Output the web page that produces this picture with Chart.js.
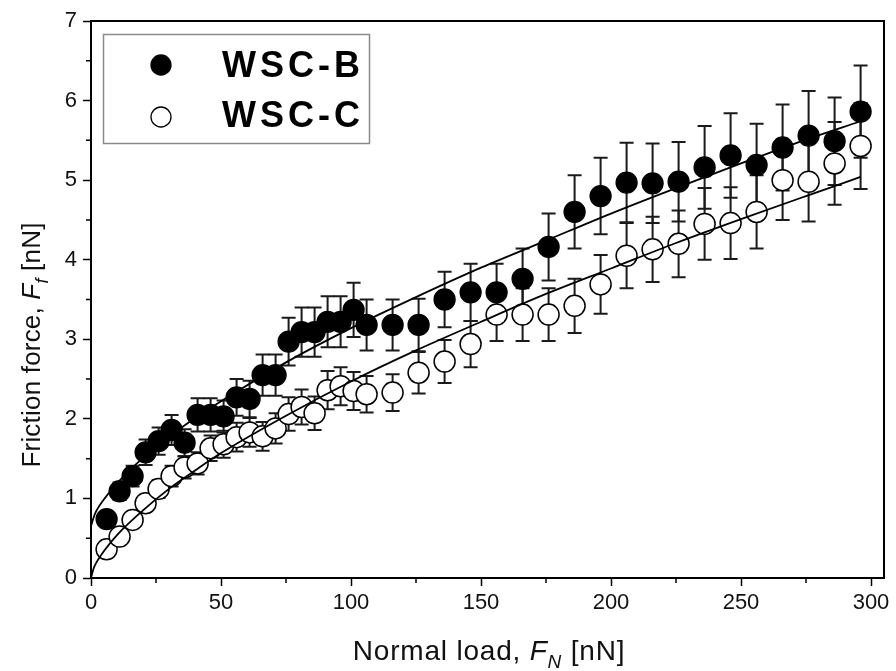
<!DOCTYPE html>
<html><head><meta charset="utf-8">
<script src="https://cdn.jsdelivr.net/npm/chart.js@4/dist/chart.umd.min.js"></script>
<style>html,body{margin:0;padding:0;background:#fff;}#wrap{width:896px;height:671px;position:relative;}</style>
</head><body><div id="wrap"><canvas id="c" width="896" height="671"></canvas></div>
<script>
// ---- data ----
const loadX = [6,11,16,21,26,31,36,41,46,51,56,61,66,71,76,81,86,91,96,101,106,116,126,136,146,156,166,176,186,196,206,216,226,236,246,256,266,276,286,296];
const frictionB = [0.74,1.09,1.28,1.58,1.72,1.86,1.70,2.05,2.05,2.03,2.27,2.25,2.55,2.55,2.97,3.09,3.09,3.22,3.22,3.37,3.18,3.18,3.18,3.50,3.59,3.59,3.76,4.16,4.60,4.80,4.97,4.96,4.98,5.16,5.31,5.19,5.41,5.56,5.49,5.86];
const errB = [0.07,0.11,0.13,0.16,0.17,0.19,0.17,0.21,0.21,0.20,0.23,0.23,0.26,0.26,0.30,0.31,0.31,0.32,0.32,0.34,0.32,0.32,0.33,0.35,0.36,0.36,0.38,0.42,0.46,0.48,0.50,0.50,0.50,0.52,0.53,0.52,0.54,0.56,0.55,0.58];
const frictionC = [0.36,0.52,0.73,0.94,1.12,1.28,1.39,1.44,1.63,1.68,1.77,1.83,1.78,1.88,2.06,2.15,2.07,2.36,2.41,2.35,2.31,2.33,2.58,2.72,2.94,3.31,3.31,3.31,3.42,3.69,4.05,4.13,4.20,4.45,4.46,4.60,5.00,4.98,5.21,5.43];
const errC = [0.04,0.05,0.07,0.09,0.11,0.13,0.14,0.14,0.16,0.17,0.18,0.18,0.18,0.19,0.21,0.22,0.21,0.24,0.24,0.24,0.23,0.23,0.26,0.27,0.29,0.33,0.33,0.33,0.34,0.37,0.41,0.41,0.42,0.45,0.45,0.46,0.50,0.50,0.52,0.54];
const fitX = [0,1,2,5,10,20,30,40,50,75,100,125,150,175,200,225,250,275,296];
const fitB = [0.65,0.76,0.84,0.99,1.19,1.51,1.77,2.01,2.22,2.71,3.14,3.53,3.90,4.24,4.58,4.90,5.21,5.51,5.74];
const fitC = [0,0.12,0.19,0.34,0.54,0.85,1.12,1.35,1.57,2.04,2.47,2.86,3.22,3.57,3.89,4.21,4.51,4.80,5.04];
const seriesNames = ['WSC-B','WSC-C'];
const xMajorTicks = [0,50,100,150,200,250,300];
const xMinorTicks = [25,75,125,175,225,275];
const yMajorTicks = [0,1,2,3,4,5,6,7];
const yMinorTicks = [0.5,1.5,2.5,3.5,4.5,5.5,6.5];

const FONT = '"Liberation Sans", Arial, Helvetica, sans-serif';
const pts = (xs, ys) => xs.map((v, i) => ({x: v, y: ys[i]}));

const errorBars = {
  id: 'errorBars',
  beforeDatasetsDraw(chart) {
    const {ctx, scales: {x, y}} = chart;
    ctx.save();
    ctx.strokeStyle = '#1a1a1a';
    ctx.lineWidth = 2;
    [[frictionB, errB], [frictionC, errC]].forEach(([ys, es]) => {
      loadX.forEach((xv, i) => {
        const px = x.getPixelForValue(xv);
        const t = y.getPixelForValue(ys[i] + es[i]);
        const b = y.getPixelForValue(ys[i] - es[i]);
        ctx.beginPath();
        ctx.moveTo(px, t); ctx.lineTo(px, b);
        ctx.moveTo(px - 7, t); ctx.lineTo(px + 7, t);
        ctx.moveTo(px - 7, b); ctx.lineTo(px + 7, b);
        ctx.stroke();
      });
    });
    ctx.restore();
  }
};

function drawRich(ctx, parts, cx, baseY, size, spacing) {
  const subSize = Math.round(size * 0.68);
  const fontFor = p => (p.italic ? 'italic ' : '') + (p.sub ? subSize : size) + 'px ' + FONT;
  ctx.letterSpacing = spacing + 'px';
  let total = 0;
  parts.forEach(p => { ctx.font = fontFor(p); total += ctx.measureText(p.t).width; });
  let xx = cx - total / 2;
  ctx.textAlign = 'left';
  ctx.textBaseline = 'alphabetic';
  parts.forEach(p => {
    ctx.font = fontFor(p);
    ctx.fillText(p.t, xx, baseY + (p.sub ? size * 0.3 : 0));
    xx += ctx.measureText(p.t).width;
  });
  ctx.letterSpacing = '0px';
}

const decor = {
  id: 'decor',
  afterDraw(chart) {
    const {ctx, chartArea: a, scales: {x, y}} = chart;
    ctx.save();
    // frame top & right
    ctx.strokeStyle = '#000';
    ctx.lineWidth = 2;
    ctx.beginPath();
    ctx.moveTo(a.left, a.top); ctx.lineTo(a.right, a.top); ctx.lineTo(a.right, a.bottom);
    ctx.stroke();
    // minor ticks
    ctx.lineWidth = 1.5;
    ctx.beginPath();
    xMinorTicks.forEach(v => { const px = x.getPixelForValue(v); ctx.moveTo(px, a.bottom); ctx.lineTo(px, a.bottom + 5); });
    yMinorTicks.forEach(v => { const py = y.getPixelForValue(v); ctx.moveTo(a.left, py); ctx.lineTo(a.left - 5, py); });
    ctx.stroke();
    // axis titles
    ctx.fillStyle = '#111';
    drawRich(ctx, [{t: 'Normal load, '}, {t: 'F', italic: true}, {t: 'N', italic: true, sub: true}, {t: ' [nN]'}], 489, 660, 28, 0.8);
    ctx.save();
    ctx.translate(40, 345);
    ctx.rotate(-Math.PI / 2);
    drawRich(ctx, [{t: 'Friction force, '}, {t: 'F', italic: true}, {t: 'f', italic: true, sub: true}, {t: ' [nN]'}], 0, 0, 26, 0.2);
    ctx.restore();
    // legend
    ctx.strokeStyle = '#8a8a8a';
    ctx.lineWidth = 1.5;
    ctx.strokeRect(103.5, 34.5, 266, 109);
    const ds = chart.data.datasets;
    [[0, 65, 77], [1, 117, 127]].forEach(([di, cy, by]) => {
      const d = ds[di];
      ctx.beginPath();
      ctx.arc(161, cy, 10, 0, Math.PI * 2);
      ctx.fillStyle = d.backgroundColor;
      ctx.fill();
      ctx.lineWidth = 1.3;
      ctx.strokeStyle = '#000';
      ctx.stroke();
      ctx.fillStyle = '#000';
      ctx.font = 'bold 36px ' + FONT;
      ctx.letterSpacing = '4px';
      ctx.textAlign = 'left';
      ctx.textBaseline = 'alphabetic';
      ctx.fillText(d.label, 222, by);
      ctx.letterSpacing = '0px';
    });
    ctx.restore();
  }
};

new Chart(document.getElementById('c'), {
  type: 'scatter',
  data: {
    datasets: [
      {label: seriesNames[0], data: pts(loadX, frictionB), backgroundColor: '#000', borderColor: '#000', borderWidth: 1.3, pointRadius: 10.5, pointHoverRadius: 10.5, order: 1},
      {label: seriesNames[1], data: pts(loadX, frictionC), backgroundColor: '#fff', borderColor: '#000', borderWidth: 1.5, pointRadius: 10.5, pointHoverRadius: 10.5, order: 2},
      {label: 'fitB', data: pts(fitX, fitB), showLine: true, pointRadius: 0, borderColor: '#000', borderWidth: 1.8, cubicInterpolationMode: 'monotone', order: 0},
      {label: 'fitC', data: pts(fitX, fitC), showLine: true, pointRadius: 0, borderColor: '#000', borderWidth: 1.8, cubicInterpolationMode: 'monotone', order: 0}
    ]
  },
  options: {
    responsive: false,
    animation: false,
    events: [],
    layout: {padding: {left: 0, right: 10, top: 21, bottom: 0}},
    plugins: {legend: {display: false}, tooltip: {enabled: false}, title: {display: false}},
    scales: {
      x: {
        type: 'linear', min: 0, max: 305,
        afterBuildTicks: ax => { ax.ticks = xMajorTicks.map(v => ({value: v})); },
        afterFit: ax => { ax.height = 93; },
        grid: {drawOnChartArea: false, drawTicks: true, tickLength: 8, tickWidth: 1.5, tickColor: '#000'},
        border: {display: true, color: '#000', width: 2},
        ticks: {color: '#111', font: {family: FONT, size: 22}, padding: 4, maxRotation: 0, autoSkip: false}
      },
      y: {
        type: 'linear', min: 0, max: 7,
        afterBuildTicks: ax => { ax.ticks = yMajorTicks.map(v => ({value: v})); },
        afterFit: ax => { ax.width = 91; },
        grid: {drawOnChartArea: false, drawTicks: true, tickLength: 8, tickWidth: 1.5, tickColor: '#000'},
        border: {display: true, color: '#000', width: 2},
        ticks: {color: '#111', font: {family: FONT, size: 22}, padding: 6, autoSkip: false}
      }
    }
  },
  plugins: [errorBars, decor]
});
</script>
</body></html>
